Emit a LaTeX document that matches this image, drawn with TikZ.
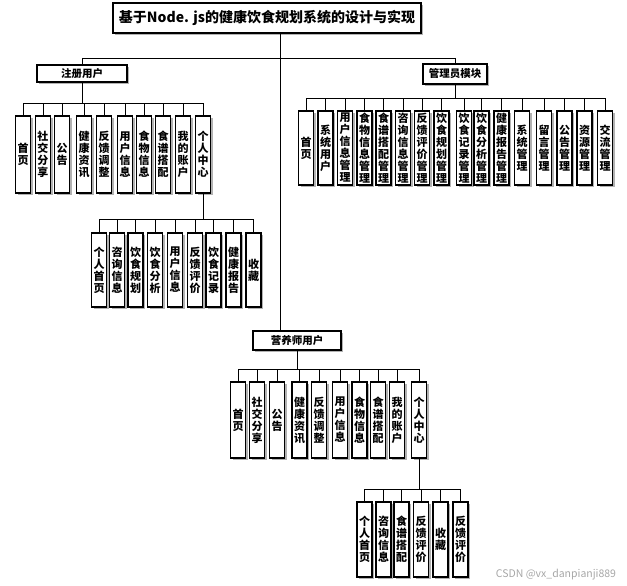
\documentclass[tikz,border=0pt]{standalone}
\usepackage{fontspec}
\setmainfont{Noto Sans CJK SC}
\usetikzlibrary{shadows}
\begin{document}
\begin{tikzpicture}[x=1pt, y=-1pt, line width=0.9pt,
    box/.style={draw, fill=white, line width=1.1pt, inner sep=0pt, align=center,
        font=\bfseries\fontsize{11}{12}\selectfont,
        drop shadow={shadow xshift=2pt, shadow yshift=-2pt, fill=gray!60, opacity=1}},
    head/.style={box, font=\bfseries\fontsize{10.5}{12}\selectfont}]
    \useasboundingbox (0,0) rectangle (627,586);
    % main boxes
    \node[box, minimum width=308pt, minimum height=30pt, font=\bfseries\fontsize{14}{14}\selectfont] (title) at (267,18) {基于Node. js的健康饮食规划系统的设计与实现};
    \node[head, minimum width=90pt, minimum height=17pt] (reg) at (82,73.5) {注册用户};
    \node[head, minimum width=64pt, minimum height=20pt] (adm) at (455,74) {管理员模块};
    \node[head, minimum width=88pt, minimum height=19pt] (nut) at (297,340.5) {营养师用户};
    \coordinate (top) at (280,58);
    \coordinate (rbus) at (0,103);
    \coordinate (pbus) at (0,219);
    \coordinate (abus) at (0,98);
    \coordinate (mbus) at (0,369);
    \coordinate (bbus) at (0,489);
    % registered user
    \foreach \i/\x/\t in {1/23/首\\页, 2/43/社\\交\\分\\享, 3/62/公\\告, 4/84/健\\康\\资\\讯, 5/104/反\\馈\\调\\整,
        6/125/用\\户\\信\\息, 7/144/食\\物\\信\\息, 8/163/食\\谱\\搭\\配, 9/183/我\\的\\账\\户, 10/203/个\\人\\中\\心} {
        \node[box, minimum width=15pt, minimum height=77pt] (r\i) at (\x,154.5) {\t};
        \draw (r\i.north) -- (r\i.north |- rbus);
    }
    \foreach \i/\x/\t in {1/99/个\\人\\首\\页, 2/117/咨\\询\\信\\息, 3/135.5/饮\\食\\规\\划, 4/155/饮\\食\\分\\析, 5/175/用\\户\\信\\息,
        6/195/反\\馈\\评\\价, 7/213.5/饮\\食\\记\\录, 8/233.5/健\\康\\报\\告, 9/253.5/收\\藏} {
        \node[box, minimum width=15pt, minimum height=74pt] (p\i) at (\x,270) {\t};
        \draw (p\i.north) -- (p\i.north |- pbus);
    }
    % admin
    \foreach \i/\x/\t in {1/306/首\\页, 2/325.5/系\\统\\用\\户, 3/345/用\\户\\信\\息\\管\\理, 4/364.5/食\\物\\信\\息\\管\\理,
        5/383.5/食\\谱\\搭\\配\\管\\理, 6/403/咨\\询\\信\\息\\管\\理, 7/422/反\\馈\\评\\价\\管\\理, 8/441.5/饮\\食\\规\\划\\管\\理,
        9/464/饮\\食\\记\\录\\管\\理, 10/481.5/饮\\食\\分\\析\\管\\理, 11/501.5/健\\康\\报\\告\\管\\理, 12/522/系\\统\\管\\理,
        13/544/留\\言\\管\\理, 14/564.5/公\\告\\管\\理, 15/584.5/资\\源\\管\\理, 16/605/交\\流\\管\\理} {
        \node[box, minimum width=15pt, minimum height=74pt] (a\i) at (\x,148) {\t};
        \draw (a\i.north) -- (a\i.north |- abus);
    }
    % nutritionist
    \foreach \i/\x/\t in {1/238/首\\页, 2/257/社\\交\\分\\享, 3/277/公\\告, 4/299.5/健\\康\\资\\讯, 5/319/反\\馈\\调\\整,
        6/340/用\\户\\信\\息, 7/359.5/食\\物\\信\\息, 8/378/食\\谱\\搭\\配, 9/397/我\\的\\账\\户, 10/419/个\\人\\中\\心} {
        \node[box, minimum width=15pt, minimum height=76pt] (m\i) at (\x,420) {\t};
        \draw (m\i.north) -- (m\i.north |- mbus);
    }
    \foreach \i/\x/\t in {1/364.5/个\\人\\首\\页, 2/383.5/咨\\询\\信\\息, 3/401.5/食\\谱\\搭\\配, 4/421/反\\馈\\评\\价,
        5/440.5/收\\藏, 6/460.5/反\\馈\\评\\价} {
        \node[box, minimum width=15pt, minimum height=75pt] (b\i) at (\x,539.5) {\t};
        \draw (b\i.north) -- (b\i.north |- bbus);
    }
    % connectors
    \draw (title.south -| top) -- (top |- nut.north);
    \draw (reg.north |- top) -- (adm.north |- top);
    \draw (reg.north |- top) -- (reg.north);
    \draw (adm.north |- top) -- (adm.north);
    \draw (reg.south) -- (reg.south |- rbus);
    \draw (r1.north |- rbus) -- (r10.north |- rbus);
    \draw (r10.south) -- (r10.south |- pbus);
    \draw (p1.north |- pbus) -- (p9.north |- pbus);
    \draw (adm.south) -- (adm.south |- abus);
    \draw (a1.north |- abus) -- (a16.north |- abus);
    \draw (nut.south) -- (nut.south |- mbus);
    \draw (m1.north |- mbus) -- (m10.north |- mbus);
    \draw (m10.south) -- (m10.south |- bbus);
    \draw (b1.north |- bbus) -- (b6.north |- bbus);
    \node[text=gray!70, font=\fontsize{10.5}{11}\selectfont] (mark) at (556,575) {CSDN @vx\_danpianji889};
\end{tikzpicture}
\end{document}
